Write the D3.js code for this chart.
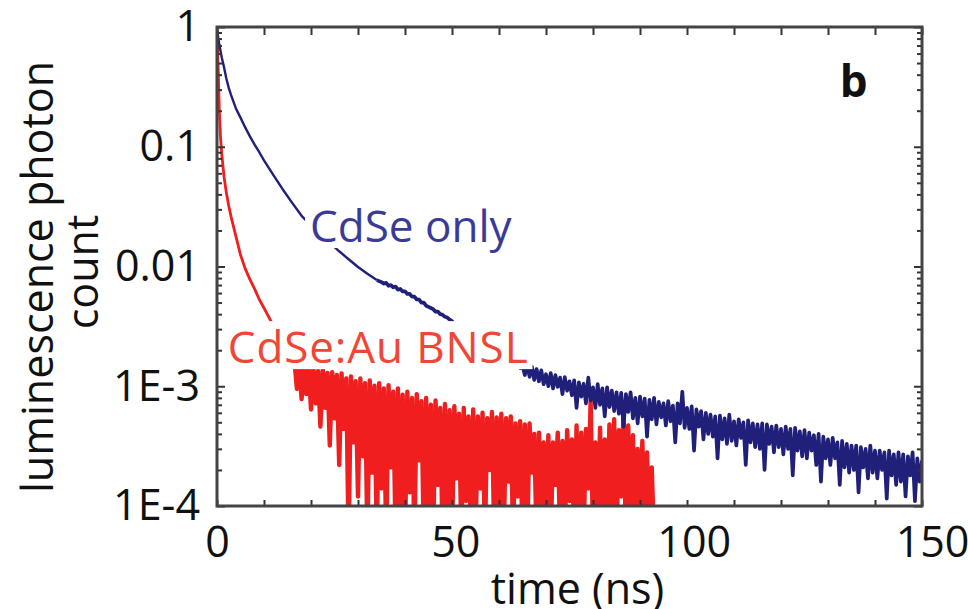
<!DOCTYPE html>
<html>
<head>
<meta charset="utf-8">
<script src="https://cdn.jsdelivr.net/npm/d3@7"></script>
<style>
  body { margin: 0; background: #fff; }
  text { font-family: "Open Sans", sans-serif; }
</style>
</head>
<body>
<script>
// CdSe only: early decay as [time (ns), normalized count]
const blueEarly = [
  [0, 0.95], [0.5, 0.71], [1, 0.56], [1.5, 0.46], [2, 0.37], [2.5, 0.31], [3, 0.27],
  [4, 0.21], [5, 0.175], [6, 0.145], [7, 0.122], [8, 0.104], [9, 0.09], [10, 0.077],
  [12, 0.058], [14, 0.044], [16, 0.034], [18, 0.0265], [20, 0.022], [22, 0.0185],
  [24, 0.0158], [26, 0.0134], [28, 0.0115], [30, 0.0099], [32, 0.0087], [34, 0.0077]
];
// CdSe only: noisy tail, one value every 0.5 ns from 35 ns
const blueTailStart = 35;
const blueTail = [
  74e-4, 72e-4, 73e-4, 69e-4, 70e-4, 67e-4, 68e-4, 64e-4, 65e-4, 62e-4, 62e-4,
  59e-4, 59e-4, 56e-4, 56e-4, 53e-4, 53e-4, 50e-4, 50e-4, 47e-4, 46e-4,
  45e-4, 44e-4, 42e-4, 42e-4, 40e-4, 39.5e-4, 38e-4, 37.5e-4, 36e-4, 35e-4,
  33e-4, 32e-4, 31e-4, 31e-4, 30e-4, 29e-4, 28e-4, 28e-4, 27e-4, 26e-4,
  25.5e-4, 25e-4, 24e-4, 23e-4, 22.5e-4, 22e-4, 21e-4, 20.5e-4, 20e-4, 19.5e-4,
  19e-4, 18e-4, 17.5e-4, 17e-4, 16.5e-4, 16e-4, 15.5e-4, 15.5e-4, 14.2e-4, 14.8e-4,
  12.4e-4, 15.2e-4, 12.0e-4, 14.6e-4, 11.3e-4, 13.9e-4, 11.0e-4, 13.6e-4, 10.4e-4, 12.6e-4,
  10.0e-4, 12.9e-4, 9.6e-4, 12.4e-4, 9.9e-4, 11.8e-4, 8.6e-4, 11.9e-4, 9.2e-4, 11.0e-4,
  8.4e-4, 11.2e-4, 6.6e-4, 10.8e-4, 8.2e-4, 10.5e-4, 7.2e-4, 11.8e-4, 7.6e-4, 9.8e-4,
  6.6e-4, 10.4e-4, 7.0e-4, 9.6e-4, 5.6e-4, 9.8e-4, 6.7e-4, 9.2e-4, 6.2e-4, 8.9e-4,
  5.9e-4, 8.8e-4, 4.6e-4, 8.6e-4, 6.1e-4, 8.9e-4, 5.4e-4, 8.0e-4, 4.9e-4, 8.2e-4,
  5.6e-4, 7.9e-4, 3.8e-4, 7.7e-4, 5.3e-4, 8.0e-4, 4.8e-4, 7.4e-4, 5.5e-4, 7.2e-4,
  4.7e-4, 7.5e-4, 5.1e-4, 6.9e-4, 3.4e-4, 7.2e-4, 4.9e-4, 9.0e-4, 4.5e-4, 6.6e-4,
  4.4e-4, 6.8e-4, 2.9e-4, 6.4e-4, 4.6e-4, 6.2e-4, 3.6e-4, 6.0e-4, 4.0e-4, 5.8e-4,
  3.8e-4, 5.6e-4, 2.5e-4, 5.7e-4, 3.6e-4, 5.4e-4, 3.3e-4, 5.8e-4, 3.5e-4, 5.1e-4,
  3.2e-4, 5.3e-4, 3.7e-4, 5.0e-4, 2.2e-4, 5.2e-4, 3.4e-4, 4.9e-4, 3.1e-4, 4.8e-4,
  3.0e-4, 4.9e-4, 2.0e-4, 4.8e-4, 3.3e-4, 4.6e-4, 2.8e-4, 4.7e-4, 3.1e-4, 4.4e-4,
  2.7e-4, 4.6e-4, 3.0e-4, 4.4e-4, 1.8e-4, 4.5e-4, 2.9e-4, 4.2e-4, 2.6e-4, 4.3e-4,
  2.5e-4, 4.1e-4, 2.9e-4, 3.9e-4, 2.2e-4, 4.0e-4, 1.6e-4, 3.8e-4, 2.5e-4, 3.6e-4,
  2.2e-4, 3.7e-4, 2.5e-4, 3.4e-4, 1.5e-4, 3.5e-4, 2.1e-4, 3.3e-4, 1.9e-4, 3.2e-4,
  2.0e-4, 3.2e-4, 1.3e-4, 3.1e-4, 2.1e-4, 3.0e-4, 1.7e-4, 3.2e-4, 1.9e-4, 2.9e-4,
  1.7e-4, 2.9e-4, 2.0e-4, 2.8e-4, 1.15e-4, 2.9e-4, 1.8e-4, 2.7e-4, 1.5e-4, 2.8e-4,
  1.6e-4, 2.7e-4, 1.2e-4, 2.6e-4, 1.8e-4, 2.8e-4, 1.1e-4, 2.5e-4, 1.6e-4, 2.4e-4
];

// CdSe:Au BNSL: early decay as [time (ns), normalized count]
const redEarly = [
  [0, 1.0], [0.25, 0.45], [0.5, 0.2], [0.75, 0.12], [1, 0.088], [1.5, 0.056], [2, 0.041],
  [2.5, 0.032], [3, 0.026], [4, 0.018], [5, 0.0125], [6, 0.0096], [7, 0.0078], [8, 0.0065],
  [9, 0.0053], [10, 0.0045], [11, 0.0038], [12, 0.0032], [13, 0.0027], [14, 0.0023],
  [15, 0.002], [16, 0.0018]
];
// CdSe:Au BNSL: noisy tail, one value every 0.5 ns from 16.5 ns (values below 1E-4 fall off the axis)
const redTailStart = 16.5;
const redTail = [
  16e-4, 9.5e-4, 15.5e-4, 7.8e-4, 15e-4, 8.6e-4, 14.2e-4, 6.4e-4,
  14e-4, 7.2e-4, 13.4e-4, 4.6e-4, 13.8e-4, 6.6e-4, 12.9e-4, 3.2e-4, 13.1e-4, 5.4e-4,
  12.4e-4, 2.2e-4, 12.8e-4, 4.4e-4, 11.6e-4, 0.5e-4, 12.1e-4, 3.4e-4, 11.0e-4, 1.2e-4,
  11.6e-4, 2.6e-4, 10.6e-4, 0.5e-4, 11.2e-4, 1.9e-4, 10.1e-4, 0.5e-4, 10.6e-4, 1.4e-4,
  9.6e-4, 0.5e-4, 10.2e-4, 2.1e-4, 9.0e-4, 0.5e-4, 9.6e-4, 0.9e-4, 8.5e-4, 0.5e-4,
  9.0e-4, 1.3e-4, 8.0e-4, 0.5e-4, 8.6e-4, 2.4e-4, 7.5e-4, 0.5e-4, 8.0e-4, 0.8e-4,
  7.0e-4, 0.5e-4, 7.6e-4, 1.5e-4, 6.6e-4, 0.5e-4, 7.1e-4, 0.7e-4, 6.3e-4, 0.5e-4,
  6.8e-4, 1.7e-4, 5.9e-4, 0.5e-4, 6.6e-4, 1.1e-4, 5.6e-4, 0.5e-4, 6.4e-4, 0.5e-4,
  5.6e-4, 1.4e-4, 6.0e-4, 0.5e-4, 5.4e-4, 2.0e-4, 6.1e-4, 0.5e-4, 5.5e-4, 0.9e-4,
  5.9e-4, 0.5e-4, 5.4e-4, 1.6e-4, 5.6e-4, 0.5e-4, 4.9e-4, 1.2e-4, 5.1e-4, 0.5e-4,
  4.8e-4, 0.5e-4, 4.9e-4, 1.9e-4, 4.0e-4, 0.5e-4, 4.1e-4, 1.0e-4, 3.4e-4, 0.5e-4,
  3.9e-4, 0.5e-4, 3.4e-4, 1.5e-4, 4.1e-4, 0.5e-4, 3.5e-4, 0.5e-4, 4.3e-4, 1.1e-4,
  3.6e-4, 0.5e-4, 4.7e-4, 0.5e-4, 4.1e-4, 0.5e-4, 4.4e-4, 1.4e-4, 7.6e-4, 0.5e-4,
  3.4e-4, 0.5e-4, 4.5e-4, 0.5e-4, 3.6e-4, 0.9e-4, 4.8e-4, 0.5e-4, 5.3e-4, 0.5e-4,
  4.3e-4, 1.2e-4, 6.8e-4, 0.5e-4, 4.7e-4, 0.5e-4, 3.9e-4, 0.5e-4, 3.0e-4, 0.5e-4,
  3.5e-4, 0.5e-4, 2.8e-4, 0.5e-4, 2.1e-4, 0.5e-4
];
const tailStep = 0.5;

const xTicks = [0, 10, 20, 30, 40, 50, 60, 70, 80, 90, 100, 110, 120, 130, 140, 150];
const xLabels = [0, 50, 100, 150];
const yMajor = [1, 0.1, 0.01, 1e-3, 1e-4];
const yLabels = ["1", "0.1", "0.01", "1E-3", "1E-4"];

const width = 968, height = 609;
const margin = { top: 27, right: 46, bottom: 103, left: 217 };
const fontSize = 43;

const svg = d3.select("body").append("svg")
  .attr("width", width)
  .attr("height", height);

const x = d3.scaleLinear().domain([0, 150]).range([margin.left, width - margin.right]);
const y = d3.scaleLog().domain([1e-4, 1]).range([height - margin.bottom, margin.top]);

function series(early, start, tail) {
  return early.map(([t, v]) => ({ t, v }))
    .concat(tail.map((v, i) => ({ t: start + i * tailStep, v })));
}
const blue = series(blueEarly, blueTailStart, blueTail);
const red = series(redEarly, redTailStart, redTail);

svg.append("clipPath").attr("id", "plot")
  .append("rect")
  .attr("x", x(0)).attr("y", y(1))
  .attr("width", x(150) - x(0)).attr("height", y(1e-4) - y(1));

const line = d3.line().x(d => x(d.t)).y(d => y(d.v));
const plot = svg.append("g").attr("clip-path", "url(#plot)");

// the noisy part is drawn a bit heavier, as the dense trace looks in the figure
function trace(data, split, color, thin, thick) {
  plot.append("path").datum(data.filter(d => d.t <= split))
    .attr("d", line).attr("fill", "none")
    .attr("stroke", color).attr("stroke-width", thin)
    .attr("stroke-linejoin", "round");
  plot.append("path").datum(data.filter(d => d.t >= split))
    .attr("d", line).attr("fill", "none")
    .attr("stroke", color).attr("stroke-width", thick)
    .attr("stroke-linejoin", "round");
}
trace(red, 16, "#f01e1e", 2.8, 4.4);
trace(blue, 34, "#20207a", 2.4, 3.7);

// labels with white boxes behind them
function label(text, t, v, color, spacing) {
  const g = svg.append("g");
  const box = g.append("rect").attr("fill", "#fff");
  const txt = g.append("text")
    .attr("x", x(t)).attr("y", y(v))
    .attr("fill", color)
    .attr("font-size", fontSize + 1)
    .attr("letter-spacing", spacing || 0)
    .text(text);
  const bb = txt.node().getBBox();
  box.attr("x", bb.x - 5).attr("width", bb.width + 9)
    .attr("y", y(v) - 42).attr("height", 48);
}
label("CdSe only", 19.8, 0.016, "#3a3a98");
label("CdSe:Au BNSL", 2.3, 0.00156, "#ef4636", 0.9);
svg.append("text")
  .attr("x", x(132.5)).attr("y", y(0.26))
  .attr("font-size", fontSize + 1)
  .attr("font-weight", "bold")
  .attr("fill", "#111")
  .text("b");

// axes
const tickColor = "#333";
function styleAxis(g) {
  g.select(".domain").remove();
  g.selectAll(".tick line").attr("stroke", tickColor).attr("stroke-width", 2);
  g.selectAll(".tick text").attr("font-size", fontSize).attr("fill", "#111")
    .attr("font-family", "Open Sans, sans-serif");
}
const yMinor = y.ticks().filter(d => !yMajor.some(m => Math.abs(m - d) < m * 1e-6));

svg.append("g")
  .attr("transform", `translate(0,${y(1e-4)})`)
  .call(d3.axisBottom(x).tickValues(xTicks).tickSizeInner(-6).tickSizeOuter(0).tickPadding(20)
    .tickFormat(d => xLabels.includes(d) ? d : ""))
  .call(styleAxis)
  .call(g => g.selectAll(".tick text").attr("dx", d => d / 150 * 10));
svg.append("g")
  .attr("transform", `translate(0,${y(1)})`)
  .call(d3.axisTop(x).tickValues(xTicks).tickSizeInner(-8).tickSizeOuter(0).tickFormat(""))
  .call(styleAxis);
svg.append("g")
  .attr("transform", `translate(${x(0)},0)`)
  .call(d3.axisLeft(y).tickValues(yMajor).tickSizeInner(-8).tickSizeOuter(0).tickPadding(17)
    .tickFormat((d, i) => yLabels[i]))
  .call(styleAxis);
svg.append("g")
  .attr("transform", `translate(${x(0)},0)`)
  .call(d3.axisLeft(y).tickValues(yMinor).tickSizeInner(-5).tickSizeOuter(0).tickFormat(""))
  .call(styleAxis);
svg.append("g")
  .attr("transform", `translate(${x(150)},0)`)
  .call(d3.axisRight(y).tickValues(yMajor).tickSizeInner(-8).tickSizeOuter(0).tickFormat(""))
  .call(styleAxis);
svg.append("g")
  .attr("transform", `translate(${x(150)},0)`)
  .call(d3.axisRight(y).tickValues(yMinor).tickSizeInner(-5).tickSizeOuter(0).tickFormat(""))
  .call(styleAxis);

// frame
svg.append("rect")
  .attr("x", x(0)).attr("y", y(1))
  .attr("width", x(150) - x(0)).attr("height", y(1e-4) - y(1))
  .attr("fill", "none")
  .attr("stroke", "#444")
  .attr("stroke-width", 3);

// axis titles
svg.append("text")
  .attr("x", (x(0) + x(150)) / 2 + 8).attr("y", 604)
  .attr("text-anchor", "middle")
  .attr("font-size", fontSize)
  .attr("fill", "#111")
  .text("time (ns)");

const yTitle = svg.append("text")
  .attr("transform", `translate(53,277) rotate(-90)`)
  .attr("text-anchor", "middle")
  .attr("font-size", fontSize)
  .attr("fill", "#111");
yTitle.append("tspan").attr("x", 0).attr("y", 0).text("luminescence photon");
yTitle.append("tspan").attr("x", 5).attr("y", 45).text("count");
</script>
</body>
</html>
